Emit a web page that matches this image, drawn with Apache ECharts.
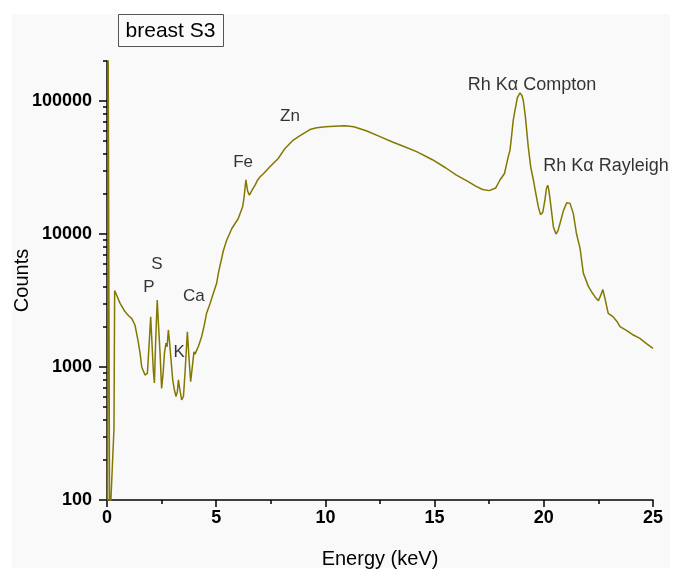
<!DOCTYPE html>
<html>
<head>
<meta charset="utf-8">
<script src="https://cdn.jsdelivr.net/npm/echarts@6/dist/echarts.min.js"></script>
<style>
  html, body { margin: 0; padding: 0; background: #ffffff; }
  #bg { position: absolute; left: 12px; top: 14px; width: 658px; height: 554px; background: #f9f9f9; }
  #chart { position: absolute; left: 0; top: 0; width: 673px; height: 570px; }
</style>
</head>
<body>
<div id="bg"></div>
<div id="chart"></div>
<script>
// ---- data ----
const energy = [
  0.02, 0.05, 0.12, 0.32, 0.35, 0.45, 0.60, 0.82, 1.00, 1.13, 1.28, 1.43, 1.52, 1.59, 1.74, 1.80, 1.85, 1.93, 2.00, 2.06,
  2.12, 2.17, 2.23, 2.30, 2.37, 2.43, 2.50, 2.57, 2.63, 2.70, 2.75, 2.81, 2.87, 2.92, 3.01, 3.08, 3.16, 3.22, 3.27, 3.32,
  3.42, 3.50, 3.58, 3.68, 3.75, 3.83, 3.92, 3.98, 4.03, 4.07, 4.20, 4.33, 4.45, 4.56, 4.72, 4.87, 5.02, 5.10, 5.33, 5.48,
  5.71, 6.01, 6.21, 6.27, 6.36, 6.44, 6.52, 6.65, 6.78, 6.90, 7.00, 7.16, 7.46, 7.84, 8.15, 8.53, 8.84, 9.29, 9.60, 10.0,
  10.4, 10.9, 11.3, 11.9, 12.5, 13.1, 13.6, 14.2, 14.9, 15.5, 16.0, 16.5, 16.9, 17.2, 17.5, 17.8, 18.0, 18.2, 18.37, 18.45,
  18.5, 18.6, 18.68, 18.79, 18.91, 19.0, 19.06, 19.15, 19.29, 19.4, 19.52, 19.65, 19.75, 19.85, 19.95, 20.05, 20.12, 20.18, 20.23, 20.3,
  20.44, 20.56, 20.65, 20.74, 20.9, 21.05, 21.12, 21.2, 21.35, 21.5, 21.66, 21.81, 22.04, 22.2, 22.34, 22.5, 22.62, 22.70, 22.8, 22.95,
  23.18, 23.35, 23.49, 23.8, 24.1, 24.4, 24.7, 25.0
];
const counts = [
  60, 400000, 60, 345, 3750, 3450, 3010, 2610, 2420, 2320, 2070, 1550, 1250, 1000, 870, 860, 900, 1500, 2390, 1500,
  950, 760, 1600, 3190, 1900, 1270, 690, 900, 1270, 1510, 1420, 1900, 1500, 1190, 800, 680, 600, 650, 800, 700,
  565, 600, 950, 1840, 1200, 775, 1050, 1300, 1250, 1270, 1450, 1690, 2050, 2540, 3000, 3580, 4260, 5080, 7520, 8970,
  10960, 13080, 16050, 18570, 25550, 21000, 19620, 21500, 23290, 25500, 26800, 28430, 32000, 37000, 44000, 50900, 55000, 61000, 63000, 64000,
  64700, 65200, 64000, 59500, 54000, 49000, 45500, 41500, 36200, 31500, 27700, 25000, 22800, 21600, 21200, 22200, 25600, 28500, 38000, 42500,
  50000, 71500, 85000, 106000, 115000, 110000, 101000, 78000, 45000, 32000, 25600, 19500, 16000, 14000, 14500, 18000, 22000, 23300, 21500, 17500,
  11300, 10000, 10600, 12000, 15000, 17200, 17400, 17000, 14300, 10000, 7800, 5080, 4040, 3650, 3380, 3150, 3500, 3830, 3280, 2530,
  2380, 2200, 2010, 1880, 1740, 1640, 1500, 1380
];

const yMajorTicks = [100, 1000, 10000, 100000];
const yMinorTicks = [200, 300, 400, 500, 600, 700, 800, 900,
  2000, 3000, 4000, 5000, 6000, 7000, 8000, 9000,
  20000, 30000, 40000, 50000, 60000, 70000, 80000, 90000, 200000];

const annoText = ['P', 'S', 'K', 'Ca', 'Fe', 'Zn', 'Rh K\u03b1 Compton', 'Rh K\u03b1 Rayleigh'];
const annoX = [1.92, 2.29, 3.30, 3.98, 6.23, 8.38, 19.46, 22.85];
const annoY = [4000, 5940, 1297, 3420, 34800, 77100, 131800, 32400];

const panelLabel = 'breast S3';

// ---- chart ----
const FONT = '"Liberation Sans", Arial, sans-serif';
const lineColor = '#837800';
const chart = echarts.init(document.getElementById('chart'), null, { renderer: 'canvas' });

const lineData = energy.map((e, i) => [e, counts[i]]);
const annoData = annoText.map((t, i) => ({
  value: [annoX[i], annoY[i]],
  label: { formatter: t, fontSize: i >= 6 ? 18 : 17, color: '#000', textBorderWidth: 0 }
}));

chart.setOption({
  animation: false,
  backgroundColor: 'transparent',
  textStyle: { fontFamily: FONT },
  grid: { left: 107, right: 20, top: 61, bottom: 70, containLabel: false, outerBoundsMode: 'none' },
  xAxis: {
    type: 'value', min: 0, max: 25, interval: 5,
    name: 'Energy (keV)', nameLocation: 'middle', nameGap: 49,
    nameTextStyle: { fontSize: 20, color: '#000', fontFamily: FONT },
    axisLine: { show: true, lineStyle: { color: '#000', width: 1.5 } },
    axisTick: { show: true, length: 7, lineStyle: { color: '#000', width: 1.5 } },
    minorTick: { show: true, splitNumber: 2, length: 4, lineStyle: { color: '#000', width: 1.5 } },
    axisLabel: { fontSize: 18, fontWeight: 'bold', color: '#000', margin: 9, fontFamily: FONT },
    splitLine: { show: false }
  },
  yAxis: [
    {
      type: 'log', logBase: 10, min: 100, max: 200000,
      name: 'Counts', nameLocation: 'middle', nameGap: 75, nameMoveOverlap: false,
      nameTextStyle: { fontSize: 20, color: '#000', fontFamily: FONT },
      axisLine: { show: true, lineStyle: { color: '#000', width: 1.5 } },
      axisTick: { show: true, length: 8, customValues: yMajorTicks, lineStyle: { color: '#000', width: 1.5 } },
      axisLabel: { customValues: yMajorTicks, fontSize: 18, fontWeight: 'bold', color: '#000', margin: 15, fontFamily: FONT,
        formatter: v => String(Math.round(v)) },
      splitLine: { show: false }
    },
    {
      type: 'log', logBase: 10, min: 100, max: 200000, position: 'left',
      axisLine: { show: false },
      axisTick: { show: true, length: 4, customValues: yMinorTicks, lineStyle: { color: '#000', width: 1.5 } },
      axisLabel: { show: false },
      splitLine: { show: false }
    }
  ],
  graphic: [
    { type: 'rect', shape: { x: 118.5, y: 14.5, width: 105, height: 32 },
      style: { fill: '#fbfbfb', stroke: '#555', lineWidth: 1 } },
    { type: 'text', x: 170.5, y: 31, style: { text: panelLabel, fontSize: 21, fontFamily: FONT, fill: '#000',
      textAlign: 'center', textVerticalAlign: 'middle' } }
  ],
  series: [
    {
      type: 'line', data: lineData, xAxisIndex: 0, yAxisIndex: 0,
      showSymbol: false, symbol: 'none', smooth: false,
      lineStyle: { color: lineColor, width: 1.5 },
      clip: true, z: 3
    },
    {
      type: 'scatter', data: annoData, xAxisIndex: 0, yAxisIndex: 0,
      symbolSize: 0, silent: true, z: 5, clip: false,
      label: { show: true, position: 'inside', color: '#000', fontFamily: FONT }
    }
  ]
});
</script>
</body>
</html>
